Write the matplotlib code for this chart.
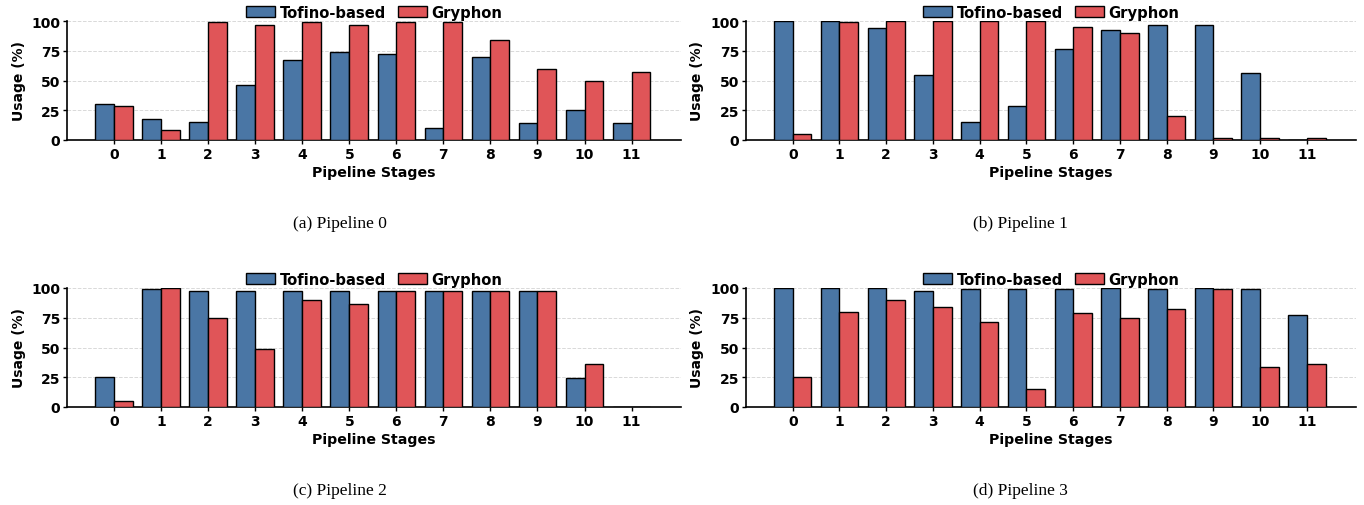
import numpy as np
import matplotlib
matplotlib.use("Agg")
import matplotlib.pyplot as plt

# -----------------------
# Data
# -----------------------
stages = list(range(12))

tofino_p0 = [30, 17.5, 15, 46.5, 67.5, 74, 72.5, 10, 70, 14, 25, 14]
gryphon_p0 = [28.5, 8.5, 99, 96.5, 99, 96.5, 99, 99, 84, 60, 50, 57.5]

tofino_p1 = [100, 100, 94, 55, 15, 28.5, 76.5, 92.5, 96.5, 96.5, 56.5, 0]
gryphon_p1 = [5, 99, 100, 100, 100, 100, 95, 90, 20, 1.5, 1.5, 1.5]

tofino_p2 = [25, 99, 97.5, 97.5, 97.5, 97.5, 97.5, 97.5, 97.5, 97.5, 24, 0]
gryphon_p2 = [5, 100, 75, 49, 90, 86.5, 97.5, 97.5, 97.5, 97.5, 36, 0]

tofino_p3 = [100, 100, 100, 97.5, 99, 99, 99, 100, 99, 100, 99, 77.5]
gryphon_p3 = [25, 80, 90, 84, 71.5, 15, 79, 75, 82.5, 99, 33.5, 36]

captions = ["(a) Pipeline 0", "(b) Pipeline 1", "(c) Pipeline 2", "(d) Pipeline 3"]

BLUE = "#4a76a5"
RED = "#e05558"


def draw_panel(ax, tofino, gryphon):
    x = np.arange(len(stages))
    w = 0.4
    ax.bar(x - w / 2, tofino, w, color=BLUE, edgecolor="black", linewidth=1.0,
           label="Tofino-based", zorder=3)
    ax.bar(x + w / 2, gryphon, w, color=RED, edgecolor="black", linewidth=1.0,
           label="Gryphon", zorder=3)
    ax.set_xlim(-1, 12.05)
    ax.set_ylim(0, 100)
    ax.set_xticks(x)
    ax.set_xticklabels([str(s) for s in stages], fontweight="bold", fontsize=10)
    ax.set_yticks([0, 25, 50, 75, 100])
    ax.set_yticklabels(["0", "25", "50", "75", "100"], fontweight="bold", fontsize=10)
    ax.set_xlabel("Pipeline Stages", fontweight="bold", fontsize=10.2, labelpad=3)
    ax.set_ylabel("Usage (%)", fontweight="bold", fontsize=10)
    ax.yaxis.grid(True, linestyle="--", color="#d9d9d9", linewidth=0.7, zorder=0)
    ax.set_axisbelow(True)
    for s in ["top", "right"]:
        ax.spines[s].set_visible(False)
    ax.spines["left"].set_linewidth(1.2)
    ax.spines["bottom"].set_linewidth(1.2)
    ax.tick_params(axis="both", length=3, width=1, pad=2)
    ax.legend(loc="center", bbox_to_anchor=(0.5, 1.075), ncol=2, frameon=False,
              prop={"weight": "bold", "size": 10.6}, handlelength=2.0,
              handleheight=0.7, handletextpad=0.3, columnspacing=0.8,
              borderaxespad=0, borderpad=0)


fig = plt.figure(figsize=(13.64, 5.06), dpi=100)

W = 1364.0
H = 506.0
lefts = [67 / W, 746 / W]
width = [(681 - 67) / W, (1356 - 746) / W]
bottoms = [(H - 141) / H, (H - 408) / H]
height = 119 / H

series = [(tofino_p0, gryphon_p0), (tofino_p1, gryphon_p1),
          (tofino_p2, gryphon_p2), (tofino_p3, gryphon_p3)]

for i, (tof, gry) in enumerate(series):
    row, col = divmod(i, 2)
    ax = fig.add_axes([lefts[col], bottoms[row], width[col], height])
    draw_panel(ax, tof, gry)

cap_x = [340 / W, 1020 / W]
cap_y = [1 - 224 / H, 1 - 491 / H]
for i, cap in enumerate(captions):
    row, col = divmod(i, 2)
    fig.text(cap_x[col], cap_y[row], cap, ha="center", va="center",
             family="Liberation Serif", fontsize=12.5)

fig.savefig("out.png", dpi=100)
